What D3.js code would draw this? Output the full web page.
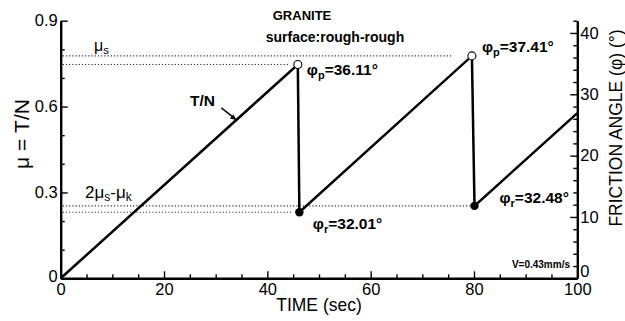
<!DOCTYPE html>
<html>
<head>
<meta charset="utf-8">
<script src="https://cdn.jsdelivr.net/npm/d3@7"></script>
<style>
  html, body { margin: 0; padding: 0; background: #fff; }
  svg { display: block; }
  text { font-family: "Liberation Sans", Arial, Helvetica, sans-serif; fill: #000; }
</style>
</head>
<body>
<svg id="chart" width="625" height="321"></svg>
<script>
// Stick-slip record: friction coefficient vs. time
const timeSec = [0, 45.9, 46.2, 79.6, 80.1, 100];
const muValues = [0, 0.747, 0.231, 0.777, 0.253, 0.577];

const peakTime = [45.9, 79.6];
const peakMu = [0.747, 0.777];
const peakAngle = ["36.11", "37.41"];

const residualTime = [46.2, 80.1];
const residualMu = [0.231, 0.253];
const residualAngle = ["32.01", "32.48"];

// dotted reference levels (level, end time)
const refMu = [0.777, 0.747, 0.253, 0.231];
const refEnd = [75.8, 44.4, 79.2, 45.0];

const xTicks = [0, 20, 40, 60, 80, 100];
const yTicks = [0, 0.3, 0.6, 0.9];
const y2Ticks = [0, 10, 20, 30, 40];

const svg = d3.select("#chart");
const plotLeft = 60.7, plotRight = 577.3, plotTop = 20.7, plotBottom = 278.3;

const x = d3.scaleLinear().domain([0, 100]).range([plotLeft, plotRight]);
const y = d3.scaleLinear().domain([0, 0.9]).range([plotBottom, plotTop]);
const y2 = d3.scaleLinear().domain([0, 42]).range([plotBottom, plotTop]);

const tickFont = 16.5;

// reference dotted lines
svg.append("g").selectAll("line").data(refMu).join("line")
  .attr("x1", x(0.4)).attr("x2", (d, i) => x(refEnd[i]))
  .attr("y1", d => y(d)).attr("y2", d => y(d))
  .attr("stroke", "#333").attr("stroke-width", 1.1)
  .attr("stroke-dasharray", "1.2,2");

// axes
const axisG = svg.append("g");
const bottomAxis = d3.axisBottom(x).tickValues(xTicks).tickSizeInner(-7).tickSizeOuter(0).tickPadding(6);
const bottomMinor = d3.axisBottom(x).tickValues(d3.range(5, 100, 5).filter(v => v % 20)).tickSize(-4).tickFormat("");
const leftAxis = d3.axisLeft(y).tickValues(yTicks).tickSizeInner(-7).tickSizeOuter(0)
  .tickFormat(d => d === 0 ? "0" : d3.format(".1f")(d));
const leftMinor = d3.axisLeft(y).tickValues([0.1, 0.2, 0.4, 0.5, 0.7, 0.8]).tickSize(-4).tickFormat("");
const rightAxis = d3.axisRight(y2).tickValues(y2Ticks).tickSizeInner(-7).tickSizeOuter(0);
const rightMinor = d3.axisRight(y2).tickValues(d3.range(2, 43, 2).filter(v => v % 10)).tickSize(-4).tickFormat("");

function styleAxis(g) {
  g.select(".domain").attr("stroke", "#000").attr("stroke-width", 2.4);
  g.selectAll(".tick line").attr("stroke", "#000").attr("stroke-width", 1.4);
  g.selectAll(".tick text").attr("font-size", tickFont)
    .attr("font-family", "'Liberation Sans', Arial, sans-serif").attr("fill", "#000");
}

axisG.append("g").attr("transform", `translate(0,${plotBottom})`).call(bottomMinor).call(styleAxis)
  .select(".domain").remove();
axisG.append("g").attr("transform", `translate(${plotLeft},0)`).call(leftMinor).call(styleAxis)
  .select(".domain").remove();
axisG.append("g").attr("transform", `translate(${plotRight},0)`).call(rightMinor).call(styleAxis)
  .select(".domain").remove();

const gB = axisG.append("g").attr("transform", `translate(0,${plotBottom})`).call(bottomAxis).call(styleAxis);
gB.selectAll(".tick text").attr("dy", "0.78em").attr("y", 3.5);
const gL = axisG.append("g").attr("transform", `translate(${plotLeft},0)`).call(leftAxis).call(styleAxis);
gL.selectAll(".tick text").attr("x", -3);
const gR = axisG.append("g").attr("transform", `translate(${plotRight},0)`).call(rightAxis).call(styleAxis);
gR.selectAll(".tick text").attr("x", 3);
// lift the corner "0" labels so they clear the bottom "0" / "100"
gR.selectAll(".tick text").filter(d => d === 0).attr("dy", "-0.12em");
gL.selectAll(".tick text").filter(d => d === 0).attr("dy", "0.2em");

// main friction trace
const line = d3.line().x((d, i) => x(timeSec[i])).y(d => y(d));
svg.append("path").datum(muValues)
  .attr("d", line).attr("fill", "none").attr("stroke", "#000")
  .attr("stroke-width", 2.5).attr("stroke-linejoin", "miter");

// peak (open) and residual (filled) markers
svg.append("g").selectAll("circle").data(peakMu).join("circle")
  .attr("cx", (d, i) => x(peakTime[i])).attr("cy", d => y(d)).attr("r", 4)
  .attr("fill", "#fff").attr("stroke", "#000").attr("stroke-width", 1.1);
svg.append("g").selectAll("circle").data(residualMu).join("circle")
  .attr("cx", (d, i) => x(residualTime[i])).attr("cy", d => y(d)).attr("r", 4.2)
  .attr("fill", "#000");

// angle annotations
function angleLabel(px, py, sub, val) {
  const t = svg.append("text").attr("x", px).attr("y", py)
    .attr("font-size", 15.5).attr("font-weight", "bold");
  t.append("tspan").text("φ");
  t.append("tspan").attr("font-size", 11).attr("dy", 4).text(sub);
  t.append("tspan").attr("dy", -4).text("=" + val + "°");
}
const peakDx = [9, 10], peakDy = [10.5, -4];
peakMu.forEach((m, i) => angleLabel(x(peakTime[i]) + peakDx[i], y(m) + peakDy[i], "p", peakAngle[i]));
const resDx = [13.5, 25], resDy = [16.5, -3];
residualMu.forEach((m, i) => angleLabel(x(residualTime[i]) + resDx[i], y(m) + resDy[i], "r", residualAngle[i]));

// level labels
const muS = svg.append("text").attr("x", 94).attr("y", 51).attr("font-size", 16);
muS.append("tspan").text("μ");
muS.append("tspan").attr("font-size", 11.5).attr("dy", 3).text("s");

const muK = svg.append("text").attr("x", 85).attr("y", 197.5).attr("font-size", 17);
muK.append("tspan").text("2μ");
muK.append("tspan").attr("font-size", 12).attr("dy", 3).text("s");
muK.append("tspan").attr("dy", -3).text("-μ");
muK.append("tspan").attr("font-size", 12).attr("dy", 3).text("k");

// T/N pointer
const tArrow = 34.0;
const muAt = muValues[1] / timeSec[1] * tArrow;
const ax = x(tArrow), ay = y(muAt);
svg.append("text").attr("x", 190).attr("y", 106).attr("font-size", 15.5)
  .attr("font-weight", "bold").text("T/N");
svg.append("line").attr("x1", ax - 15).attr("y1", ay - 12).attr("x2", ax - 1).attr("y2", ay - 1)
  .attr("stroke", "#000").attr("stroke-width", 1.4);
svg.append("path")
  .attr("d", `M${ax},${ay} l-6.5,-1.5 l3.5,-3.8 z`)
  .attr("fill", "#000");

// titles
svg.append("text").attr("x", 302).attr("y", 19.5).attr("text-anchor", "middle")
  .attr("font-size", 13).attr("font-weight", "bold").text("GRANITE");
svg.append("text").attr("x", 335).attr("y", 41.5).attr("text-anchor", "middle")
  .attr("font-size", 14).attr("font-weight", "bold").text("surface:rough-rough");
svg.append("text").attr("x", 570).attr("y", 268).attr("text-anchor", "end")
  .attr("font-size", 10).attr("font-weight", "bold").text("V=0.43mm/s");

svg.append("text").attr("x", (plotLeft + plotRight) / 2).attr("y", 311).attr("text-anchor", "middle")
  .attr("font-size", 17.5).text("TIME (sec)");
svg.append("text").attr("transform", "translate(29,134) rotate(-90)").attr("text-anchor", "middle")
  .attr("font-size", 21).text("μ = T/N");
svg.append("text").attr("transform", "translate(622,128) rotate(-90)").attr("text-anchor", "middle")
  .attr("font-size", 17.5).text("FRICTION ANGLE  (φ) (°)");
</script>
</body>
</html>
